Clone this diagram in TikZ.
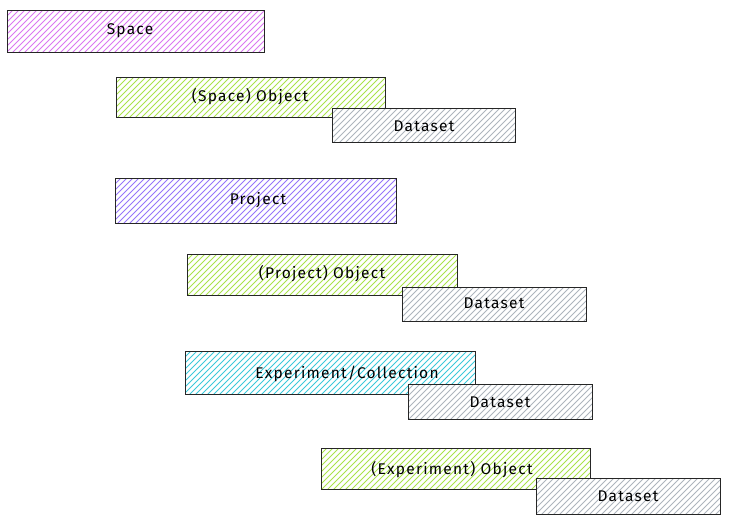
\documentclass[tikz,border=0pt]{standalone}
\usepackage{fontspec}
\setmainfont{Fira Sans}[LetterSpace=8]
\begin{document}
\begin{tikzpicture}[x=1pt,y=-1pt,
  lbl/.style={font=\fontsize{15.5}{18}\selectfont,text=black}]
\useasboundingbox (0,0) rectangle (731,523);
\definecolor{cpurple}{HTML}{DA77F2}
\definecolor{cgreen}{HTML}{A9E34B}
\definecolor{cgray}{HTML}{ADB5BD}
\definecolor{cviolet}{HTML}{9775FA}
\definecolor{ccyan}{HTML}{3BC9DB}
\newcommand{\hbx}[5]{%
  \fill[white] (#1,#2) rectangle (#3,#4);
  \begin{scope}
    \clip (#1,#2) rectangle (#3,#4);
    \foreach \k in {0,6,...,360}{\draw[#5,line width=0.8pt] (#1+\k,#2) -- ++(-60,60);}
  \end{scope}
  \draw[black!85,line width=0.7pt] (#1,#2) rectangle (#3,#4);}
\hbx{7}{10}{264}{52}{cpurple}
\node[lbl] (space) at (130,31) {Space};
\hbx{116}{77}{385}{117}{cgreen}
\node[lbl] (sobj) at (250,97) {(Space) Object};
\hbx{332}{108}{515}{142}{cgray}
\node[lbl] (ds1) at (424,126) {Dataset};
\hbx{115}{178}{396}{223}{cviolet}
\node[lbl] (proj) at (258,200) {Project};
\hbx{187}{254}{457}{295}{cgreen}
\node[lbl] (pobj) at (322,274) {(Project) Object};
\hbx{402}{287}{586}{321}{cgray}
\node[lbl] (ds2) at (494,303) {Dataset};
\hbx{185}{351}{475}{394}{ccyan}
\node[lbl] (exp) at (347,374) {Experiment/Collection};
\hbx{408}{384}{592}{419}{cgray}
\node[lbl] (ds3) at (500,402) {Dataset};
\hbx{321}{448}{590}{489}{cgreen}
\node[lbl] (eobj) at (452,470) {(Experiment) Object};
\hbx{536}{478}{720}{514}{cgray}
\node[lbl] (ds4) at (628,496) {Dataset};
\end{tikzpicture}
\end{document}
